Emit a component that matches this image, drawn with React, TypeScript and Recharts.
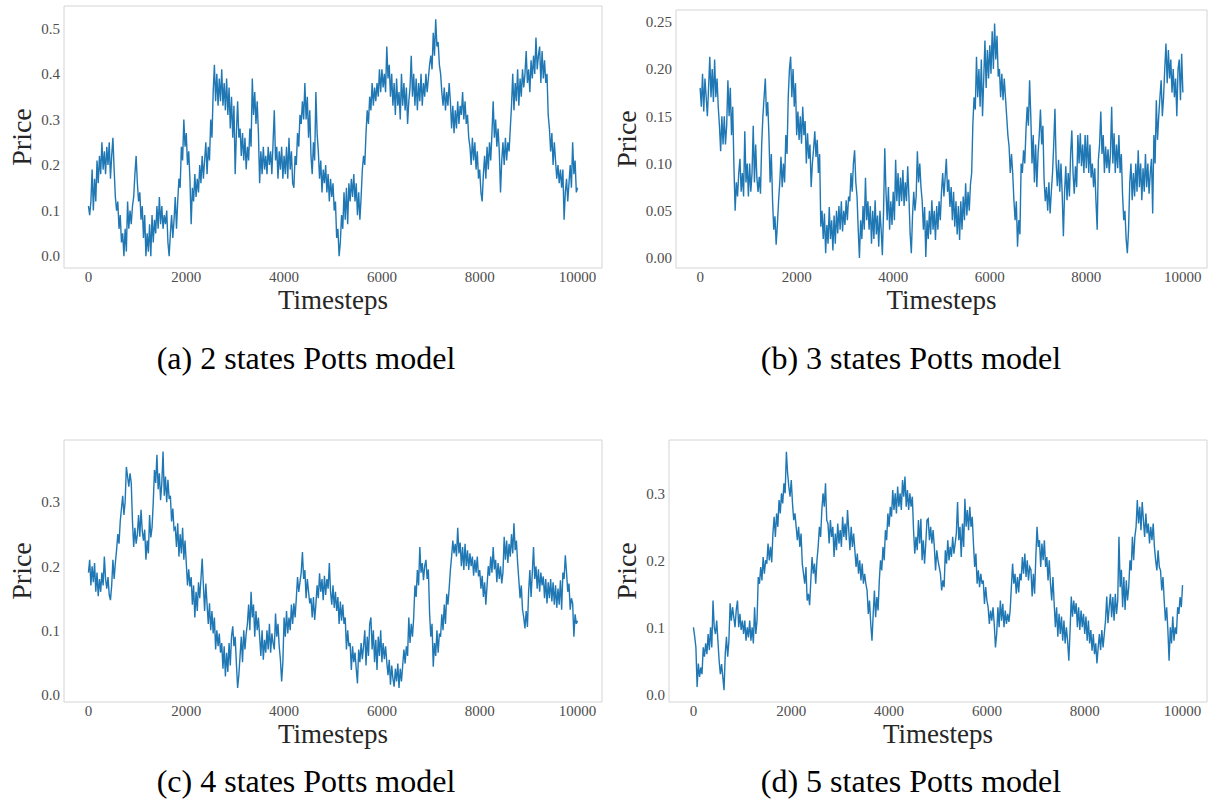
import React from "react";
import { LineChart, Line, XAxis, YAxis, ReferenceArea } from "recharts";

const X_TICKS = [0, 2000, 4000, 6000, 8000, 10000];

const PRICE_2_STATES = [
  0.11, 0.09, 0.12, 0.19, 0.1, 0.17, 0.12, 0.21, 0.16, 0.22, 0.18, 0.25, 0.19, 0.23, 0.18, 0.24, 0.2, 0.25, 0.17, 0.22,
  0.26, 0.19, 0.13, 0.1, 0.12, 0.06, 0.09, 0.03, 0.05, 0.0, 0.06, 0.01, 0.12, 0.06, 0.1, 0.07, 0.11, 0.13, 0.18, 0.22,
  0.16, 0.12, 0.14, 0.08, 0.11, 0.04, 0.09, 0.0, 0.05, 0.01, 0.07, 0.0, 0.09, 0.03, 0.08, 0.05, 0.11, 0.06, 0.13, 0.07,
  0.11, 0.06, 0.09, 0.07, 0.1, 0.03, 0.0, 0.05, 0.09, 0.04, 0.08, 0.13, 0.06, 0.12, 0.17, 0.15, 0.24, 0.21, 0.3, 0.24,
  0.27, 0.2, 0.23, 0.17, 0.07, 0.15, 0.12, 0.18, 0.13, 0.17, 0.14, 0.2, 0.16, 0.22, 0.17, 0.21, 0.25, 0.18, 0.24, 0.21,
  0.3, 0.26, 0.36, 0.42, 0.34, 0.4, 0.33, 0.39, 0.34, 0.41, 0.33, 0.38, 0.32, 0.39, 0.31, 0.37, 0.28, 0.35, 0.26, 0.33,
  0.18, 0.27, 0.34, 0.26, 0.28, 0.22, 0.27, 0.21, 0.26, 0.19, 0.24, 0.21, 0.28, 0.24, 0.39, 0.31, 0.36, 0.29, 0.34, 0.27,
  0.16, 0.23, 0.18, 0.24, 0.19, 0.22, 0.18, 0.24, 0.2, 0.23, 0.18, 0.25, 0.32, 0.21, 0.24, 0.17, 0.23, 0.19, 0.24, 0.17,
  0.22, 0.18, 0.24, 0.17, 0.26, 0.19, 0.23, 0.16, 0.15, 0.22, 0.2, 0.27, 0.24, 0.31, 0.29, 0.34, 0.3, 0.38, 0.3, 0.35,
  0.26, 0.32, 0.22, 0.18, 0.25, 0.21, 0.36, 0.27, 0.23, 0.17, 0.21, 0.14, 0.19, 0.16, 0.2, 0.14, 0.18, 0.12, 0.17, 0.13,
  0.16, 0.1, 0.12, 0.04, 0.06, 0.0, 0.03, 0.09, 0.06, 0.14, 0.08, 0.15, 0.07, 0.16, 0.12, 0.17, 0.13, 0.18, 0.12, 0.16,
  0.09, 0.14, 0.08, 0.13, 0.19, 0.22, 0.2, 0.27, 0.32, 0.29, 0.35, 0.32, 0.38, 0.33, 0.37, 0.34, 0.38, 0.35, 0.41, 0.36,
  0.41, 0.37, 0.4, 0.36, 0.46, 0.39, 0.42, 0.35, 0.4, 0.33, 0.38, 0.31, 0.39, 0.33, 0.36, 0.3, 0.4, 0.33, 0.38, 0.32,
  0.37, 0.29, 0.34, 0.37, 0.44, 0.35, 0.4, 0.33, 0.39, 0.32, 0.38, 0.34, 0.4, 0.33, 0.38, 0.35, 0.4, 0.36, 0.39, 0.42,
  0.44, 0.41, 0.49, 0.44, 0.52, 0.46, 0.47, 0.42, 0.4, 0.36, 0.33, 0.37, 0.32, 0.36, 0.33, 0.38, 0.34, 0.28, 0.33, 0.27,
  0.32, 0.28, 0.34, 0.29, 0.33, 0.31, 0.36, 0.3, 0.34, 0.29, 0.31, 0.26, 0.24, 0.2, 0.26, 0.21, 0.25, 0.19, 0.23, 0.17,
  0.19, 0.14, 0.12, 0.18, 0.22, 0.17, 0.24, 0.19, 0.25, 0.21, 0.27, 0.34, 0.26, 0.3, 0.24, 0.28, 0.23, 0.14, 0.21, 0.25,
  0.2, 0.26, 0.21, 0.25, 0.23, 0.28, 0.33, 0.4, 0.32, 0.38, 0.34, 0.41, 0.33, 0.39, 0.35, 0.41, 0.37, 0.4, 0.45, 0.38,
  0.41, 0.36, 0.43, 0.39, 0.44, 0.4, 0.48, 0.41, 0.44, 0.46, 0.38, 0.45, 0.39, 0.43, 0.38, 0.4, 0.31, 0.28, 0.23, 0.27,
  0.2, 0.25, 0.21, 0.17, 0.2, 0.16, 0.19, 0.15, 0.19, 0.08, 0.14, 0.17, 0.12, 0.16, 0.2, 0.15, 0.25, 0.18, 0.21, 0.14,
  0.15,
];

const PRICE_3_STATES = [
  0.18, 0.16, 0.195, 0.155, 0.19, 0.17, 0.15, 0.18, 0.213, 0.17, 0.2, 0.165, 0.21, 0.17, 0.19, 0.16, 0.14, 0.113, 0.15, 0.12,
  0.15, 0.12, 0.14, 0.188, 0.15, 0.18, 0.13, 0.16, 0.097, 0.05, 0.08, 0.065, 0.09, 0.105, 0.07, 0.09, 0.065, 0.134, 0.08, 0.1,
  0.065, 0.1, 0.07, 0.09, 0.14, 0.08, 0.12, 0.085, 0.07, 0.086, 0.068, 0.12, 0.15, 0.17, 0.19, 0.15, 0.165, 0.13, 0.08, 0.11,
  0.061, 0.03, 0.044, 0.014, 0.035, 0.06, 0.08, 0.107, 0.075, 0.1, 0.08, 0.13, 0.11, 0.17, 0.2, 0.213, 0.17, 0.2, 0.16, 0.185,
  0.13, 0.155, 0.125, 0.15, 0.121, 0.16, 0.13, 0.145, 0.1, 0.132, 0.105, 0.12, 0.075, 0.1, 0.115, 0.134, 0.107, 0.125, 0.09, 0.11,
  0.033, 0.05, 0.02, 0.047, 0.005, 0.035, 0.015, 0.054, 0.02, 0.04, 0.008, 0.045, 0.015, 0.05, 0.026, 0.055, 0.03, 0.06, 0.028, 0.05,
  0.035, 0.061, 0.04, 0.065, 0.06, 0.09, 0.07, 0.1, 0.114, 0.08, 0.065, 0.03, 0.0, 0.04, 0.02, 0.055, 0.03, 0.085, 0.04, 0.06,
  0.03, 0.055, 0.015, 0.05, 0.02, 0.061, 0.025, 0.045, 0.012, 0.05, 0.03, 0.003, 0.05, 0.116, 0.07, 0.04, 0.075, 0.03, 0.06, 0.035,
  0.07, 0.04, 0.104, 0.06, 0.09, 0.055, 0.085, 0.06, 0.093, 0.055, 0.08, 0.06, 0.097, 0.065, 0.026, 0.005, 0.045, 0.07, 0.05, 0.065,
  0.113, 0.08, 0.1, 0.075, 0.06, 0.03, 0.054, 0.001, 0.04, 0.02, 0.05, 0.025, 0.061, 0.03, 0.05, 0.019, 0.055, 0.03, 0.06, 0.04,
  0.07, 0.09, 0.065, 0.085, 0.105, 0.07, 0.083, 0.054, 0.075, 0.04, 0.07, 0.033, 0.06, 0.025, 0.055, 0.019, 0.06, 0.03, 0.065, 0.04,
  0.079, 0.045, 0.07, 0.05, 0.078, 0.09, 0.142, 0.17, 0.157, 0.213, 0.17, 0.2, 0.16, 0.21, 0.15, 0.19, 0.23, 0.18, 0.22, 0.19,
  0.225, 0.195, 0.24, 0.2, 0.248, 0.21, 0.235, 0.192, 0.2, 0.17, 0.195, 0.167, 0.19, 0.17, 0.15, 0.13, 0.118, 0.09, 0.11, 0.09,
  0.061, 0.04, 0.06, 0.012, 0.04, 0.025, 0.1, 0.09, 0.114, 0.1, 0.135, 0.16, 0.14, 0.188, 0.15, 0.1, 0.13, 0.08, 0.12, 0.075,
  0.11, 0.13, 0.157, 0.12, 0.14, 0.083, 0.06, 0.075, 0.05, 0.08, 0.047, 0.07, 0.09, 0.12, 0.158, 0.1, 0.076, 0.104, 0.07, 0.1,
  0.068, 0.023, 0.07, 0.097, 0.061, 0.09, 0.065, 0.11, 0.135, 0.09, 0.068, 0.097, 0.075, 0.13, 0.1, 0.132, 0.097, 0.12, 0.09, 0.13,
  0.095, 0.13, 0.09, 0.12, 0.085, 0.1, 0.075, 0.095, 0.06, 0.03, 0.104, 0.12, 0.155, 0.11, 0.13, 0.09, 0.118, 0.095, 0.115, 0.09,
  0.11, 0.16, 0.1, 0.132, 0.09, 0.12, 0.095, 0.13, 0.09, 0.11, 0.068, 0.04, 0.05, 0.02, 0.005, 0.03, 0.08, 0.1, 0.061, 0.09,
  0.065, 0.1, 0.07, 0.114, 0.075, 0.1, 0.061, 0.095, 0.07, 0.11, 0.075, 0.1, 0.068, 0.09, 0.105, 0.047, 0.13, 0.1, 0.167, 0.125,
  0.15, 0.17, 0.188, 0.15, 0.17, 0.2, 0.227, 0.185, 0.22, 0.19, 0.21, 0.175, 0.2, 0.17, 0.19, 0.15, 0.2, 0.21, 0.167, 0.216,
  0.175,
];

const PRICE_4_STATES = [
  0.19, 0.21, 0.17, 0.2, 0.175, 0.205, 0.16, 0.19, 0.153, 0.18, 0.16, 0.19, 0.17, 0.215, 0.18, 0.165, 0.183, 0.155, 0.147, 0.17,
  0.21, 0.18, 0.205, 0.225, 0.25, 0.235, 0.27, 0.29, 0.31, 0.28, 0.3, 0.355, 0.34, 0.324, 0.345, 0.33, 0.27, 0.23, 0.26, 0.235,
  0.25, 0.28, 0.246, 0.288, 0.255, 0.24, 0.257, 0.21, 0.24, 0.22, 0.28, 0.245, 0.26, 0.3, 0.35, 0.33, 0.374, 0.32, 0.345, 0.303,
  0.33, 0.379, 0.31, 0.34, 0.3, 0.335, 0.305, 0.31, 0.27, 0.29, 0.257, 0.26, 0.23, 0.267, 0.215, 0.25, 0.22, 0.26, 0.21, 0.24,
  0.205, 0.17, 0.195, 0.168, 0.183, 0.14, 0.17, 0.12, 0.16, 0.13, 0.175, 0.15, 0.18, 0.212, 0.17, 0.13, 0.173, 0.14, 0.11, 0.142,
  0.1, 0.13, 0.095, 0.12, 0.07, 0.1, 0.075, 0.095, 0.065, 0.08, 0.04, 0.075, 0.028, 0.065, 0.035, 0.08, 0.045, 0.09, 0.106, 0.075,
  0.09, 0.048, 0.01, 0.03, 0.06, 0.09, 0.05, 0.1, 0.07, 0.095, 0.11, 0.14, 0.1, 0.16, 0.12, 0.14, 0.09, 0.13, 0.1, 0.12,
  0.09, 0.06, 0.1, 0.054, 0.085, 0.065, 0.1, 0.07, 0.11, 0.065, 0.095, 0.08, 0.07, 0.126, 0.09, 0.11, 0.075, 0.054, 0.02, 0.05,
  0.12, 0.09, 0.13, 0.095, 0.12, 0.1, 0.14, 0.11, 0.142, 0.12, 0.15, 0.183, 0.16, 0.175, 0.19, 0.222, 0.18, 0.194, 0.15, 0.18,
  0.16, 0.142, 0.15, 0.12, 0.152, 0.116, 0.14, 0.17, 0.15, 0.189, 0.16, 0.18, 0.147, 0.185, 0.155, 0.18, 0.165, 0.205, 0.16, 0.14,
  0.17, 0.135, 0.16, 0.13, 0.152, 0.11, 0.145, 0.115, 0.14, 0.11, 0.12, 0.07, 0.1, 0.075, 0.08, 0.038, 0.075, 0.05, 0.065, 0.04,
  0.017, 0.07, 0.05, 0.08, 0.055, 0.075, 0.1, 0.045, 0.09, 0.06, 0.11, 0.12, 0.07, 0.1, 0.05, 0.085, 0.038, 0.09, 0.06, 0.1,
  0.05, 0.08, 0.055, 0.075, 0.05, 0.03, 0.054, 0.015, 0.045, 0.025, 0.012, 0.04, 0.02, 0.048, 0.01, 0.04, 0.02, 0.045, 0.07, 0.048,
  0.075, 0.06, 0.12, 0.08, 0.11, 0.09, 0.12, 0.17, 0.152, 0.194, 0.17, 0.23, 0.19, 0.205, 0.178, 0.2, 0.21, 0.18, 0.195, 0.126,
  0.09, 0.11, 0.043, 0.08, 0.06, 0.1, 0.065, 0.095, 0.09, 0.125, 0.1, 0.14, 0.11, 0.157, 0.14, 0.165, 0.194, 0.215, 0.24, 0.22,
  0.235, 0.215, 0.26, 0.22, 0.237, 0.2, 0.23, 0.194, 0.235, 0.2, 0.225, 0.194, 0.22, 0.2, 0.215, 0.185, 0.21, 0.19, 0.215, 0.184,
  0.194, 0.165, 0.185, 0.152, 0.175, 0.14, 0.17, 0.2, 0.185, 0.215, 0.19, 0.23, 0.195, 0.21, 0.175, 0.205, 0.18, 0.2, 0.173, 0.19,
  0.246, 0.21, 0.24, 0.205, 0.235, 0.215, 0.25, 0.22, 0.267, 0.225, 0.24, 0.205, 0.178, 0.15, 0.17, 0.132, 0.12, 0.103, 0.13, 0.105,
  0.16, 0.194, 0.152, 0.19, 0.23, 0.18, 0.2, 0.165, 0.195, 0.16, 0.19, 0.17, 0.184, 0.15, 0.18, 0.142, 0.175, 0.15, 0.18, 0.145,
  0.175, 0.14, 0.17, 0.135, 0.165, 0.14, 0.178, 0.132, 0.19, 0.18, 0.217, 0.19, 0.16, 0.173, 0.132, 0.15, 0.142, 0.09, 0.125, 0.11,
  0.115,
];

const PRICE_5_STATES = [
  0.1, 0.086, 0.07, 0.011, 0.046, 0.026, 0.04, 0.03, 0.07, 0.056, 0.076, 0.06, 0.09, 0.066, 0.1, 0.07, 0.14, 0.1, 0.09, 0.11,
  0.08, 0.05, 0.03, 0.045, 0.026, 0.006, 0.06, 0.086, 0.056, 0.08, 0.136, 0.11, 0.13, 0.115, 0.1, 0.126, 0.14, 0.1, 0.12, 0.096,
  0.11, 0.09, 0.11, 0.08, 0.1, 0.085, 0.11, 0.08, 0.1, 0.076, 0.13, 0.09, 0.11, 0.175, 0.165, 0.19, 0.17, 0.205, 0.18, 0.2,
  0.195, 0.225, 0.2, 0.22, 0.197, 0.24, 0.265, 0.235, 0.27, 0.25, 0.29, 0.27, 0.3, 0.285, 0.315, 0.3, 0.362, 0.33, 0.31, 0.295,
  0.32, 0.285, 0.26, 0.27, 0.25, 0.23, 0.25, 0.22, 0.24, 0.195, 0.18, 0.165, 0.19, 0.14, 0.15, 0.133, 0.17, 0.205, 0.18, 0.195,
  0.165, 0.2, 0.22, 0.25, 0.235, 0.275, 0.3, 0.28, 0.315, 0.26, 0.255, 0.225, 0.26, 0.235, 0.25, 0.205, 0.24, 0.215, 0.255, 0.225,
  0.245, 0.22, 0.265, 0.235, 0.255, 0.23, 0.275, 0.245, 0.215, 0.25, 0.22, 0.24, 0.215, 0.19, 0.21, 0.18, 0.2, 0.17, 0.195, 0.165,
  0.18, 0.165, 0.155, 0.12, 0.14, 0.105, 0.08, 0.12, 0.155, 0.115, 0.145, 0.125, 0.17, 0.2, 0.185, 0.22, 0.2, 0.245, 0.23, 0.27,
  0.25, 0.28, 0.265, 0.305, 0.275, 0.3, 0.27, 0.31, 0.28, 0.3, 0.275, 0.32, 0.295, 0.325, 0.28, 0.305, 0.275, 0.3, 0.28, 0.295,
  0.245, 0.21, 0.235, 0.215, 0.26, 0.225, 0.262, 0.2, 0.23, 0.195, 0.225, 0.26, 0.262, 0.23, 0.25, 0.225, 0.245, 0.22, 0.185, 0.215,
  0.2, 0.19, 0.18, 0.155, 0.17, 0.16, 0.215, 0.195, 0.23, 0.2, 0.22, 0.205, 0.235, 0.21, 0.225, 0.24, 0.287, 0.23, 0.25, 0.205,
  0.255, 0.22, 0.292, 0.25, 0.275, 0.245, 0.28, 0.25, 0.265, 0.225, 0.19, 0.21, 0.165, 0.185, 0.16, 0.18, 0.165, 0.17, 0.135, 0.16,
  0.14, 0.13, 0.105, 0.125, 0.11, 0.13, 0.105, 0.07, 0.09, 0.13, 0.1, 0.14, 0.11, 0.135, 0.1, 0.125, 0.105, 0.12, 0.108, 0.125,
  0.16, 0.195, 0.165, 0.18, 0.15, 0.175, 0.152, 0.18, 0.17, 0.205, 0.18, 0.21, 0.175, 0.2, 0.17, 0.19, 0.186, 0.146, 0.18, 0.15,
  0.205, 0.25, 0.22, 0.23, 0.19, 0.225, 0.2, 0.23, 0.19, 0.205, 0.17, 0.2, 0.165, 0.14, 0.175, 0.136, 0.1, 0.13, 0.086, 0.12,
  0.09, 0.116, 0.08, 0.11, 0.076, 0.1, 0.08, 0.05, 0.095, 0.146, 0.116, 0.14, 0.12, 0.136, 0.1, 0.13, 0.096, 0.125, 0.1, 0.12,
  0.09, 0.116, 0.08, 0.11, 0.076, 0.096, 0.065, 0.09, 0.06, 0.076, 0.046, 0.07, 0.09, 0.066, 0.096, 0.07, 0.09, 0.11, 0.146, 0.106,
  0.13, 0.15, 0.115, 0.145, 0.11, 0.15, 0.12, 0.14, 0.235, 0.16, 0.186, 0.13, 0.175, 0.126, 0.17, 0.14, 0.16, 0.2, 0.185, 0.235,
  0.2, 0.235, 0.25, 0.29, 0.255, 0.28, 0.245, 0.287, 0.26, 0.235, 0.27, 0.24, 0.255, 0.225, 0.25, 0.23, 0.255, 0.22, 0.2, 0.185,
  0.215, 0.19, 0.185, 0.155, 0.175, 0.14, 0.11, 0.13, 0.096, 0.05, 0.1, 0.076, 0.116, 0.08, 0.1, 0.09, 0.13, 0.12, 0.145, 0.13,
  0.163,
];

const CAPTIONS = [
  "(a) 2 states Potts model",
  "(b) 3 states Potts model",
  "(c) 4 states Potts model",
  "(d) 5 states Potts model",
];

const SERIF = '"Liberation Serif", "Times New Roman", serif';
const LINE_BLUE = "#1f77b4";

// readings are evenly spaced from timestep 0 to 10000
const toRows = (values: number[]) =>
  values.map((price, i) => ({
    t: Math.round((i * 10000) / (values.length - 1)),
    price,
  }));

type PanelProps = {
  values: number[];
  left: number;
  top: number;
  width: number;
  marginTop: number;
  marginRight: number;
  yDomain: [number, number];
  yTicks: number[];
  digits: number;
  caption: string;
  captionX: number;
  captionTop: number;
  priceX: number;
};

const CHART_H = 300;
const X_AXIS_H = 32;
const Y_AXIS_W = 64;

function Panel(props: PanelProps) {
  const {
    values,
    left,
    top,
    width,
    marginTop,
    marginRight,
    yDomain,
    yTicks,
    digits,
    caption,
    captionX,
    captionTop,
    priceX,
  } = props;
  const plotLeft = left + Y_AXIS_W;
  const plotRight = left + width - marginRight;
  const plotTop = top + marginTop;
  const plotBottom = top + CHART_H - X_AXIS_H;

  return (
    <>
      <div style={{ position: "absolute", left, top }}>
        <LineChart
          width={width}
          height={CHART_H}
          data={toRows(values)}
          margin={{ top: marginTop, right: marginRight, bottom: 0, left: 0 }}
        >
          <XAxis
            dataKey="t"
            type="number"
            domain={[-500, 10500]}
            ticks={X_TICKS}
            height={X_AXIS_H}
            axisLine={false}
            tickLine={false}
            tickSize={0}
            tickMargin={3}
            tick={{ fontSize: 15, fill: "#4d4d4d", fontFamily: SERIF }}
          />
          <YAxis
            type="number"
            domain={yDomain}
            ticks={yTicks}
            width={Y_AXIS_W}
            axisLine={false}
            tickLine={false}
            tickSize={0}
            tickMargin={4}
            tickFormatter={(v: number) => v.toFixed(digits)}
            tick={{ fontSize: 15, fill: "#4d4d4d", fontFamily: SERIF }}
          />
          <ReferenceArea
            x1={-500}
            x2={10500}
            y1={yDomain[0]}
            y2={yDomain[1]}
            fill="none"
            stroke="#d4d4d4"
            strokeWidth={1}
          />
          <Line
            type="linear"
            dataKey="price"
            stroke={LINE_BLUE}
            strokeWidth={1.4}
            dot={false}
            isAnimationActive={false}
          />
        </LineChart>
      </div>
      <div
        style={{
          position: "absolute",
          left: priceX,
          top: (plotTop + plotBottom) / 2,
          transform: "translate(-50%, -50%) rotate(-90deg)",
          fontSize: 28,
          lineHeight: 1,
          color: "#262626",
          whiteSpace: "nowrap",
        }}
      >
        Price
      </div>
      <div
        style={{
          position: "absolute",
          left: (plotLeft + plotRight) / 2,
          top: plotBottom + 23,
          transform: "translateX(-50%)",
          fontSize: 27,
          lineHeight: 0.7,
          color: "#262626",
          whiteSpace: "nowrap",
        }}
      >
        Timesteps
      </div>
      <div
        style={{
          position: "absolute",
          left: captionX,
          top: captionTop,
          transform: "translateX(-50%)",
          fontSize: 32,
          lineHeight: 0.8,
          color: "#000",
          whiteSpace: "nowrap",
        }}
      >
        {caption}
      </div>
    </>
  );
}

export default function App() {
  return (
    <div
      style={{
        position: "absolute",
        left: 0,
        top: 0,
        width: 1210,
        height: 807,
        background: "#fff",
        fontFamily: SERIF,
        overflow: "hidden",
      }}
    >
      <Panel
        values={PRICE_2_STATES}
        left={0}
        top={0}
        width={610}
        marginTop={6}
        marginRight={8}
        yDomain={[-0.026, 0.549]}
        yTicks={[0, 0.1, 0.2, 0.3, 0.4, 0.5]}
        digits={1}
        caption={CAPTIONS[0]}
        captionX={306}
        captionTop={346}
        priceX={22}
      />
      <Panel
        values={PRICE_3_STATES}
        left={612}
        top={0}
        width={598}
        marginTop={10}
        marginRight={3}
        yDomain={[-0.0106, 0.2624]}
        yTicks={[0, 0.05, 0.1, 0.15, 0.2, 0.25]}
        digits={2}
        caption={CAPTIONS[1]}
        captionX={911}
        captionTop={346}
        priceX={627}
      />
      <Panel
        values={PRICE_4_STATES}
        left={0}
        top={434}
        width={610}
        marginTop={6}
        marginRight={8}
        yDomain={[-0.012, 0.397]}
        yTicks={[0, 0.1, 0.2, 0.3]}
        digits={1}
        caption={CAPTIONS[2]}
        captionX={306}
        captionTop={769}
        priceX={22}
      />
      <Panel
        values={PRICE_5_STATES}
        left={605}
        top={434}
        width={605}
        marginTop={6}
        marginRight={3}
        yDomain={[-0.0115, 0.3796]}
        yTicks={[0, 0.1, 0.2, 0.3]}
        digits={1}
        caption={CAPTIONS[3]}
        captionX={911}
        captionTop={769}
        priceX={627}
      />
    </div>
  );
}
